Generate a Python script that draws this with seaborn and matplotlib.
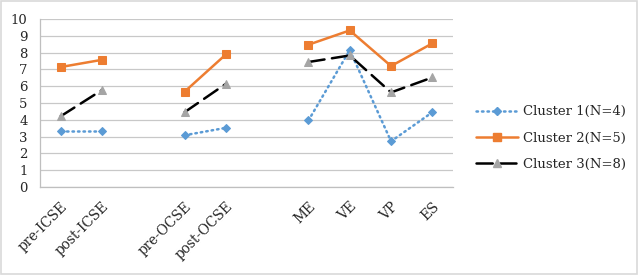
import numpy as np
import pandas as pd
import matplotlib
matplotlib.use("Agg")
import matplotlib.pyplot as plt
import seaborn as sns
from matplotlib.patches import Rectangle

categories = ["pre-ICSE", "post-ICSE", "", "pre-OCSE", "post-OCSE", "", "ME", "VE", "VP", "ES"]
cluster1 = [3.34, 3.34, np.nan, 3.08, 3.52, np.nan, 3.96, 8.15, 2.72, 4.45]
cluster2 = [7.14, 7.57, np.nan, 5.67, 7.89, np.nan, 8.47, 9.32, 7.20, 8.55]
cluster3 = [4.21, 5.77, np.nan, 4.45, 6.14, np.nan, 7.44, 7.83, 5.63, 6.52]
series_names = ["Cluster 1(N=4)", "Cluster 2(N=5)", "Cluster 3(N=8)"]

sns.set_theme(style="white")
plt.rcParams["font.family"] = ["DejaVu Serif", "Liberation Serif"]

FS = 9.5

fig = plt.figure(figsize=(6.39, 2.75), dpi=100)
ax = fig.add_axes([40/639, 1-187/275, 413/639, 168/275])

styles = [
    dict(color="#5B9BD5", marker="D", markersize=4.5, linestyle=(0, (0.6, 1.6)), mfc="#5B9BD5", mec="#5B9BD5"),
    dict(color="#ED7D31", marker="s", markersize=6, linestyle="-", mfc="#ED7D31", mec="#ED7D31"),
    dict(color="black", marker="^", markersize=6, linestyle=(0, (6.5, 3)), mfc="#A5A5A5", mec="#A5A5A5"),
]

x = np.arange(len(categories))
handles = []
for name, vals, st in zip(series_names, [cluster1, cluster2, cluster3], styles):
    vals = np.array(vals, dtype=float)
    seg_id = np.cumsum(np.isnan(vals))
    df = pd.DataFrame({"x": x, "y": vals, "seg": seg_id}).dropna()
    for s, sub in df.groupby("seg"):
        sns.lineplot(data=sub, x="x", y="y", ax=ax, color=st["color"], linewidth=1.8,
                     marker=st["marker"], markersize=st["markersize"],
                     markerfacecolor=st["mfc"], markeredgecolor=st["mec"],
                     linestyle=st["linestyle"], dash_capstyle="round",
                     estimator=None, sort=False, legend=False)
    h, = ax.plot([], [], color=st["color"], linewidth=1.8, marker=st["marker"],
                 markersize=st["markersize"], markerfacecolor=st["mfc"],
                 markeredgecolor=st["mec"], linestyle=st["linestyle"], dash_capstyle="round")
    handles.append(h)

ax.set_xlim(-0.5, len(categories) - 0.5)
ax.set_ylim(0, 10)
ax.set_yticks(range(0, 11))
ax.set_yticklabels([str(i) for i in range(0, 11)], fontsize=FS)
ax.set_xticks(x)
ax.set_xticklabels(categories, rotation=45, ha="right", rotation_mode="anchor", fontsize=9.8)
ax.set_xticks(np.arange(-0.5, len(categories)), minor=True)
ax.tick_params(axis="x", which="major", length=0, pad=9)
ax.tick_params(axis="x", which="minor", length=4, color="#BFBFBF", width=0.8)
ax.tick_params(axis="y", length=4, color="#BFBFBF", width=0.8, pad=5)
ax.grid(axis="y", color="#C8C8C8", linewidth=0.9)
ax.set_axisbelow(True)
for sp in ["top", "right"]:
    ax.spines[sp].set_visible(False)
for sp in ["left", "bottom"]:
    ax.spines[sp].set_color("#BFBFBF")
    ax.spines[sp].set_linewidth(0.9)
ax.set_xlabel("")
ax.set_ylabel("")

leg = fig.legend(handles, series_names, loc="center left", bbox_to_anchor=(464/639, 1-138/275),
                 frameon=False, fontsize=FS, handlelength=3.2, labelspacing=1.0, handletextpad=0.35)

fig.patches.append(Rectangle((0.002, 0.004), 0.995, 0.992, transform=fig.transFigure,
                             fill=False, edgecolor="#D9D9D9", linewidth=1.2))

fig.savefig("out.png", dpi=100)
